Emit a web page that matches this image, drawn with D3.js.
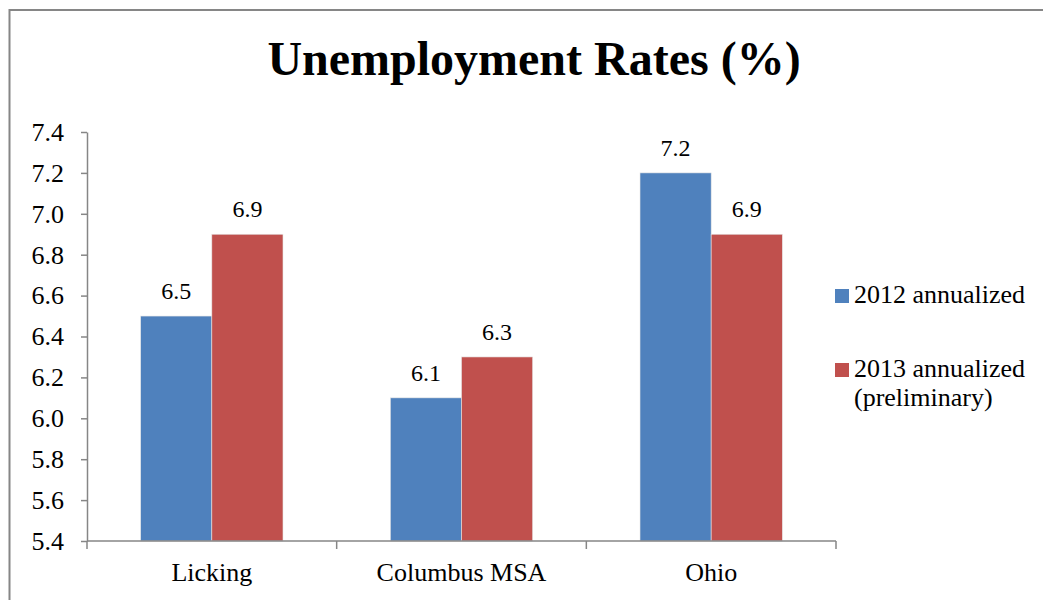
<!DOCTYPE html>
<html>
<head>
<meta charset="utf-8">
<script src="https://cdn.jsdelivr.net/npm/d3@7"></script>
<style>
  html, body { margin: 0; padding: 0; background: #fff; }
  svg { display: block; }
  text { font-family: "Liberation Serif", "Times New Roman", serif; fill: #000; }
</style>
</head>
<body>
<svg id="chart" width="1043" height="600"></svg>
<script>
// Unemployment rates by area
const categories = ["Licking", "Columbus MSA", "Ohio"];
const seriesNames = ["2012 annualized", "2013 annualized (preliminary)"];
const rates2012 = [6.5, 6.1, 7.2];
const rates2013 = [6.9, 6.3, 6.9];
const yTicks = [5.4, 5.6, 5.8, 6.0, 6.2, 6.4, 6.6, 6.8, 7.0, 7.2, 7.4];
const colors = ["#4F81BD", "#C0504D"];

const svg = d3.select("#chart");

// outer frame
svg.append("rect")
  .attr("x", 9.5).attr("y", 10)
  .attr("width", 1100).attr("height", 700)
  .attr("fill", "none")
  .attr("stroke", "#868686")
  .attr("stroke-width", 2);

// title
svg.append("text")
  .attr("x", 534).attr("y", 75)
  .attr("text-anchor", "middle")
  .style("font-size", "48px")
  .style("font-weight", "bold")
  .text("Unemployment Rates (%)");

const plot = { left: 87, right: 836, top: 132, bottom: 541 };

const x0 = d3.scaleBand()
  .domain(categories)
  .range([plot.left, plot.right])
  .paddingInner(0.43)
  .paddingOuter(0.215);

const x1 = d3.scaleBand()
  .domain([0, 1])
  .range([0, x0.bandwidth()]);

const y = d3.scaleLinear()
  .domain([5.4, 7.4])
  .range([plot.bottom, plot.top]);

const rows = categories.map((c, i) => ({
  cat: c,
  vals: [rates2012[i], rates2013[i]]
}));

// bars
const groups = svg.append("g").selectAll("g")
  .data(rows)
  .join("g")
  .attr("transform", d => `translate(${x0(d.cat)},0)`);

groups.selectAll("rect")
  .data(d => d.vals.map((v, k) => ({ v, k })))
  .join("rect")
  .attr("x", d => x1(d.k))
  .attr("y", d => y(d.v))
  .attr("width", x1.bandwidth())
  .attr("height", d => y(5.4) - y(d.v))
  .attr("fill", d => colors[d.k])
  .attr("stroke", "#e6e6e6")
  .attr("stroke-width", 0.6);

// value labels
groups.selectAll("text")
  .data(d => d.vals.map((v, k) => ({ v, k })))
  .join("text")
  .attr("x", d => x1(d.k) + x1.bandwidth() / 2)
  .attr("y", d => y(d.v) - 17)
  .attr("text-anchor", "middle")
  .style("font-size", "24px")
  .text(d => d.v.toFixed(1));

// y axis
const yAxis = d3.axisLeft(y)
  .tickValues(yTicks)
  .tickFormat(d3.format(".1f"))
  .tickSize(6)
  .tickSizeOuter(0)
  .tickPadding(17);

const gy = svg.append("g")
  .attr("transform", `translate(${plot.left},0)`)
  .call(yAxis);
gy.select(".domain").attr("stroke", "#868686").attr("stroke-width", 1.5);
gy.selectAll(".tick line").attr("stroke", "#868686").attr("stroke-width", 1.5);
gy.selectAll(".tick text")
  .style("font-size", "26px")
  .style("font-family", "'Liberation Serif', 'Times New Roman', serif")
  .attr("fill", "#000");

// x axis: boundary ticks between categories
const xEdges = d3.scaleLinear().domain([0, categories.length]).range([plot.left, plot.right]);
const gx = svg.append("g");
gx.append("line")
  .attr("x1", plot.left).attr("x2", plot.right)
  .attr("y1", plot.bottom).attr("y2", plot.bottom)
  .attr("stroke", "#868686").attr("stroke-width", 1.5);
gx.selectAll("line.edge")
  .data(d3.range(categories.length + 1))
  .join("line")
  .attr("class", "edge")
  .attr("x1", d => xEdges(d)).attr("x2", d => xEdges(d))
  .attr("y1", plot.bottom).attr("y2", plot.bottom + 8)
  .attr("stroke", "#868686").attr("stroke-width", 1.5);
gx.selectAll("text")
  .data(categories)
  .join("text")
  .attr("x", d => x0(d) + x0.bandwidth() / 2)
  .attr("y", 581)
  .attr("text-anchor", "middle")
  .style("font-size", "26px")
  .text(d => d);

// legend
const legendRows = [
  { lines: ["2012 annualized"], y: 303 },
  { lines: ["2013 annualized", "(preliminary)"], y: 377 }
];
const lg = svg.append("g").selectAll("g")
  .data(legendRows)
  .join("g");
lg.append("rect")
  .attr("x", 835)
  .attr("y", d => d.y - 14)
  .attr("width", 14).attr("height", 14)
  .attr("fill", (d, i) => colors[i]);
lg.append("text")
  .attr("x", 854)
  .attr("y", d => d.y)
  .style("font-size", "26px")
  .selectAll("tspan")
  .data(d => d.lines)
  .join("tspan")
  .attr("x", 854)
  .attr("dy", (d, i) => i === 0 ? 0 : 29)
  .text(d => d);
</script>
</body>
</html>
